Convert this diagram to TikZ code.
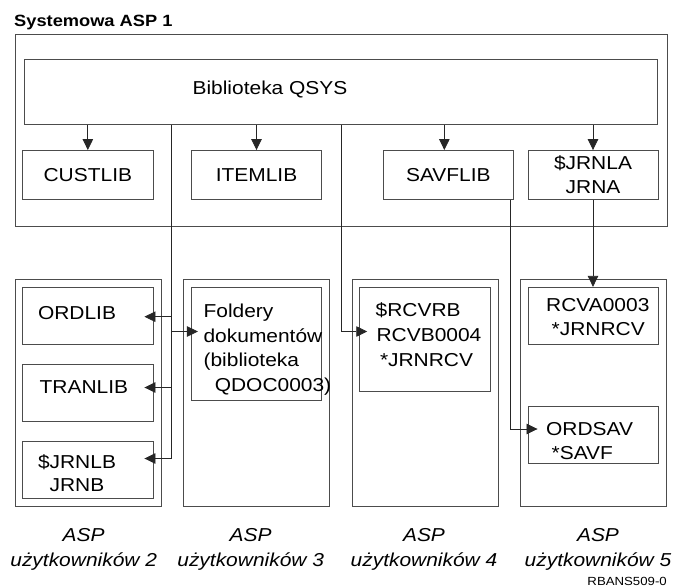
\documentclass[tikz,border=0pt]{standalone}
\usepackage{fontspec}
\setmainfont{Liberation Sans}[FakeStretch=1.12]
\usetikzlibrary{arrows.meta,calc}
\begin{document}
\begin{tikzpicture}[x=1pt,y=-1pt,
  box/.style={draw=black!70, line width=0.9pt, inner sep=0pt},
  txt/.style={font=\fontsize{18.7}{24}\selectfont, inner sep=0pt, anchor=base west},
  boxtxt/.style={font=\fontsize{18.7}{24}\selectfont, align=center},
  captxt/.style={font=\fontsize{18.7}{24}\selectfont\itshape, inner sep=0pt, anchor=base},
  ln/.style={draw=black!85, line width=0.8pt},
  arr/.style={ln, -{Triangle[length=11pt,width=10.5pt]}}]
\useasboundingbox (0,0) rectangle (673,587);

\node[font=\fontsize{16.3}{20}\selectfont\bfseries, inner sep=0pt, anchor=base west] (title) at (14,26.7) {Systemowa ASP 1};

% system ASP
\node[box, minimum width=652pt, minimum height=191.5pt] (asp1) at (341,130.25) {};
\node[box, minimum width=633.5pt, minimum height=65pt] (qsys) at (340.75,91.8) {};
\node[font=\fontsize{18.7}{24}\selectfont, inner sep=0pt, anchor=base] (qsyst) at (270,94.5) {Biblioteka QSYS};

\node[box, boxtxt, minimum width=130.3pt, minimum height=48.8pt] (custlib) at (87.85,174.9) {CUSTLIB};
\node[box, boxtxt, minimum width=130.2pt, minimum height=48.8pt] (itemlib) at (256.5,174.9) {ITEMLIB};
\node[box, boxtxt, minimum width=130.7pt, minimum height=48.8pt] (savflib) at (448.35,174.9) {SAVFLIB};
\node[box, boxtxt, minimum width=130pt, minimum height=48.8pt] (jrnla) at (593,174.9) {\$JRNLA\\JRNA};

% user ASPs
\node[box, minimum width=146pt, minimum height=227.4pt] (asp2) at (88,393) {};
\node[box, minimum width=146.3pt, minimum height=227.4pt] (asp3) at (256.45,393) {};
\node[box, minimum width=146pt, minimum height=227.4pt] (asp4) at (425,393) {};
\node[box, minimum width=146.5pt, minimum height=227.4pt] (asp5) at (593.25,393) {};

\node[box, minimum width=130.3pt, minimum height=57pt] (ordlib) at (87.85,315.8) {};
\node[box, minimum width=130.3pt, minimum height=57.4pt] (tranlib) at (87.85,393) {};
\node[box, minimum width=130.3pt, minimum height=57pt] (jrnlb) at (87.85,469.8) {};
\node[box, minimum width=130.1pt, minimum height=112.7pt] (foldery) at (256.45,343.65) {};
\node[box, minimum width=130.3pt, minimum height=103.7pt] (rcvrb) at (424.85,339.15) {};
\node[box, minimum width=130pt, minimum height=57pt] (rcva) at (593,315.8) {};
\node[box, minimum width=130pt, minimum height=56.6pt] (ordsav) at (593,435) {};

\node[txt] (ordlibt) at (37.8,319.2) {ORDLIB};
\node[txt] (tranlibt) at (39.5,393.5) {TRANLIB};
\node[txt] (jrnlbt1) at (37.8,468) {\$JRNLB};
\node[txt] (jrnlbt2) at (49.4,491.7) {JRNB};

\node[txt] (fold1) at (203.4,317.5) {Foldery};
\node[txt] (fold2) at (203.4,342) {dokumentów};
\node[txt] (fold3) at (203.4,366.5) {(biblioteka};
\node[txt] (fold4) at (214.6,391) {QDOC0003)};

\node[txt] (rcvrb1) at (375.5,316.7) {\$RCVRB};
\node[txt] (rcvrb2) at (376.4,341.5) {RCVB0004};
\node[txt] (rcvrb3) at (379.8,366) {*JRNRCV};

\node[txt] (rcva1) at (546,311.7) {RCVA0003};
\node[txt] (rcva2) at (551.5,335.7) {*JRNRCV};

\node[txt] (ordsav1) at (546,435.5) {ORDSAV};
\node[txt] (ordsav2) at (551.5,459.5) {*SAVF};

% captions
\node[captxt] (l2a) at (83.7,541.7) {ASP};
\node[captxt] (l2b) at (83.7,566.7) {użytkowników 2};
\node[captxt] (l3a) at (250.7,541.7) {ASP};
\node[captxt] (l3b) at (250.7,566.7) {użytkowników 3};
\node[captxt] (l4a) at (424,541.7) {ASP};
\node[captxt] (l4b) at (424,566.7) {użytkowników 4};
\node[captxt] (l5a) at (598,541.7) {ASP};
\node[captxt] (l5b) at (598,566.7) {użytkowników 5};
\node[font=\fontsize{11.8}{14}\selectfont, inner sep=0pt, anchor=base east] (code) at (667,585) {RBANS509-0};

% arrows from QSYS
\draw[arr] (qsys.south -| custlib.north) -- (custlib.north);
\draw[arr] (qsys.south -| itemlib.north) -- (itemlib.north);
\draw[arr] ($(qsys.south -| savflib.north)+(-4,0)$) -- ($(savflib.north)+(-4,0)$);
\draw[arr] (qsys.south -| jrnla.north) -- (jrnla.north);

% trunk 1
\coordinate (t1) at (171.7,458.5);
\coordinate (b1) at (171.7,316.7);
\coordinate (b2) at (171.7,387.5);
\coordinate (b3) at (171.7,331.5);
\draw[ln] (qsys.south -| t1) -- (t1);
\draw[arr] (b1) -- ($(b1 -| ordlib.east)+(-9,0)$);
\draw[arr] (b2) -- ($(b2 -| tranlib.east)+(-9,0)$);
\draw[arr] (t1) -- ($(t1 -| jrnlb.east)+(-9,0)$);
\draw[arr] (b3) -- ($(b3 -| foldery.west)+(7,0)$);

% trunk 2
\coordinate (t2) at (341,331.5);
\draw[arr] (qsys.south -| t2) -- (t2) -- ($(t2 -| rcvrb.west)+(8,0)$);

% trunk 3
\coordinate (t3) at (510,429);
\draw[arr] (savflib.south -| t3) -- (t3) -- ($(t3 -| ordsav.west)+(10,0)$);

% JRNA to receiver
\draw[arr] (jrnla.south) -- (rcva.north);
\end{tikzpicture}
\end{document}
